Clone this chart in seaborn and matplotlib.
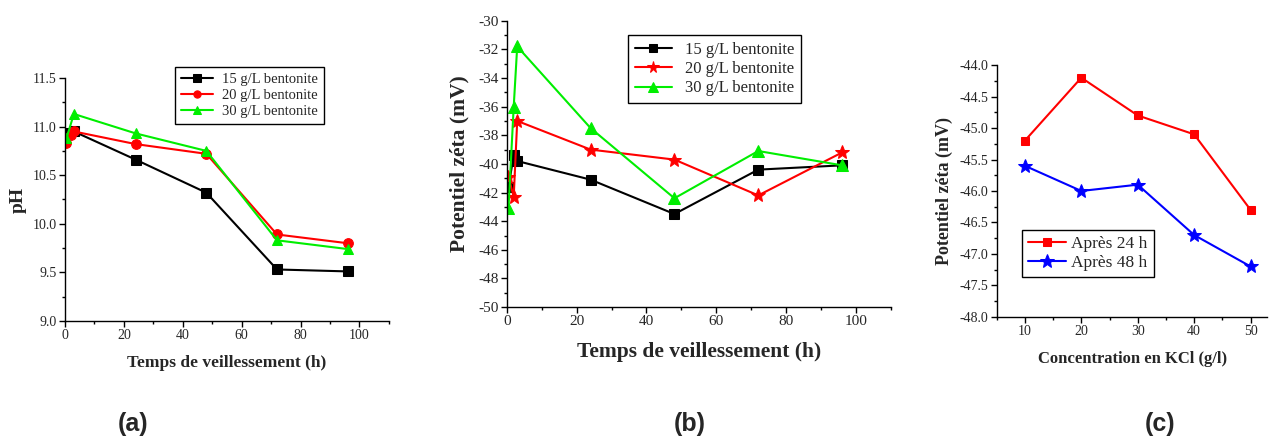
import numpy as np
import pandas as pd
import matplotlib
matplotlib.use("Agg")
import matplotlib.pyplot as plt
from matplotlib.ticker import MultipleLocator, FormatStrFormatter
import seaborn as sns

sns.set_theme(style="white")
plt.rcParams['font.family'] = ['Liberation Serif', 'DejaVu Serif']
plt.rcParams['axes.unicode_minus'] = False

# ---- Panel (a): pH vs ageing time
a_time_15 = [0.5, 3, 24, 48, 72, 96]
a_ph_15 = [10.93, 10.95, 10.66, 10.32, 9.53, 9.51]
a_time_20 = [0.5, 2, 3, 24, 48, 72, 96]
a_ph_20 = [10.83, 10.91, 10.95, 10.82, 10.72, 9.89, 9.80]
a_time_30 = [0.5, 3, 24, 48, 72, 96]
a_ph_30 = [10.88, 11.13, 10.93, 10.75, 9.83, 9.74]

# ---- Panel (b): zeta potential vs ageing time
b_time_15 = [0.5, 2, 3, 24, 48, 72, 96]
b_zeta_15 = [-41.6, -39.4, -39.8, -41.1, -43.5, -40.4, -40.1]
b_time_20 = [0.5, 2, 3, 24, 48, 72, 96]
b_zeta_20 = [-40.9, -42.3, -37.0, -39.0, -39.7, -42.2, -39.2]
b_time_30 = [0.5, 2, 3, 24, 48, 72, 96]
b_zeta_30 = [-43.1, -36.0, -31.8, -37.5, -42.4, -39.1, -40.1]

# ---- Panel (c): zeta potential vs KCl concentration
c_kcl = [10, 20, 30, 40, 50]
c_zeta_24h = [-45.2, -44.2, -44.8, -45.1, -46.3]
c_zeta_48h = [-45.6, -46.0, -45.9, -46.7, -47.2]

series_labels = ["15 g/L bentonite", "20 g/L bentonite", "30 g/L bentonite"]
c_labels = ["Après 24 h", "Après 48 h"]

fig = plt.figure(figsize=(12.7, 4.4), dpi=100)
ax_a = fig.add_axes([0.0512, 0.2705, 0.2550, 0.5522])
ax_b = fig.add_axes([0.3990, 0.3020, 0.3026, 0.6510])
ax_c = fig.add_axes([0.7848, 0.2800, 0.2132, 0.5720])

GREEN = "#00ee00"

def style_axes(ax, tick_fs):
    for s in ["top", "right"]:
        ax.spines[s].set_visible(False)
    for s in ["left", "bottom"]:
        ax.spines[s].set_color("black")
        ax.spines[s].set_linewidth(1.0)
    ax.tick_params(which="both", direction="out", color="black",
                   left=True, bottom=True, labelsize=tick_fs, pad=2)
    ax.tick_params(which="major", length=4, width=1)
    ax.tick_params(which="minor", length=2.5, width=1)
    ax.set_facecolor("white")

def legend(ax, anchor, fs, **kw):
    ax.legend(loc="upper left", bbox_to_anchor=anchor, fontsize=fs,
              frameon=True, fancybox=False, edgecolor="black", framealpha=1,
              borderaxespad=0, **kw).get_frame().set_linewidth(1.0)

# Panel a
for xs, ys, col, mk, lab in [
    (a_time_15, a_ph_15, "black", "s", series_labels[0]),
    (a_time_20, a_ph_20, "red", "o", series_labels[1]),
    (a_time_30, a_ph_30, GREEN, "^", series_labels[2]),
]:
    sns.lineplot(x=xs, y=ys, ax=ax_a, color=col, marker=mk, markersize=7,
                 markeredgecolor=col, linewidth=1.5, estimator=None, sort=False,
                 label=lab)
ax_a.set_xlim(0, 110)
ax_a.set_ylim(9.0, 11.5)
ax_a.xaxis.set_major_locator(MultipleLocator(20))
ax_a.xaxis.set_minor_locator(MultipleLocator(10))
ax_a.yaxis.set_major_locator(MultipleLocator(0.5))
ax_a.yaxis.set_minor_locator(MultipleLocator(0.25))
ax_a.yaxis.set_major_formatter(FormatStrFormatter("%.1f"))
style_axes(ax_a, 10)
ax_a.set_xlabel("Temps de veillessement (h)", fontsize=12.5, fontweight="bold", labelpad=9)
ax_a.set_ylabel("pH", fontsize=14, fontweight="bold", labelpad=4)
legend(ax_a, (0.34, 1.045), 10.5, handlelength=2.2, borderpad=0.4,
       labelspacing=0.2, markerscale=0.75, handletextpad=0.6)

# Panel b
for xs, ys, col, mk, lab, ms in [
    (b_time_15, b_zeta_15, "black", "s", series_labels[0], 7),
    (b_time_20, b_zeta_20, "red", "*", series_labels[1], 10),
    (b_time_30, b_zeta_30, GREEN, "^", series_labels[2], 8),
]:
    sns.lineplot(x=xs, y=ys, ax=ax_b, color=col, marker=mk, markersize=ms,
                 markeredgecolor=col, linewidth=1.5, estimator=None, sort=False,
                 label=lab)
ax_b.set_xlim(0, 110)
ax_b.set_ylim(-50, -30)
ax_b.xaxis.set_major_locator(MultipleLocator(20))
ax_b.xaxis.set_minor_locator(MultipleLocator(10))
ax_b.yaxis.set_major_locator(MultipleLocator(2))
ax_b.yaxis.set_minor_locator(MultipleLocator(1))
style_axes(ax_b, 11)
ax_b.set_xlabel("Temps de veillessement (h)", fontsize=15.5, fontweight="bold", labelpad=10)
ax_b.set_ylabel("Potentiel zéta (mV)", fontsize=15.5, fontweight="bold", labelpad=6)
legend(ax_b, (0.316, 0.95), 12, handlelength=2.2, borderpad=0.4,
       labelspacing=0.2, markerscale=0.85)

# Panel c
for ys, col, mk, lab, ms in [
    (c_zeta_24h, "red", "s", c_labels[0], 6),
    (c_zeta_48h, "blue", "*", c_labels[1], 10),
]:
    sns.lineplot(x=c_kcl, y=ys, ax=ax_c, color=col, marker=mk, markersize=ms,
                 markeredgecolor=col, linewidth=1.5, estimator=None, sort=False,
                 label=lab)
ax_c.set_xlim(5, 53)
ax_c.set_ylim(-48.0, -44.0)
ax_c.xaxis.set_major_locator(MultipleLocator(10))
ax_c.xaxis.set_minor_locator(MultipleLocator(5))
ax_c.yaxis.set_major_locator(MultipleLocator(0.5))
ax_c.yaxis.set_minor_locator(MultipleLocator(0.25))
ax_c.yaxis.set_major_formatter(FormatStrFormatter("%.1f"))
style_axes(ax_c, 10)
ax_c.set_xlabel("Concentration en KCl (g/l)", fontsize=12, fontweight="bold", labelpad=9)
ax_c.set_ylabel("Potentiel zéta (mV)", fontsize=13, fontweight="bold", labelpad=5)
legend(ax_c, (0.092, 0.344), 12.5, handlelength=2.2, borderpad=0.35,
       labelspacing=0.15, handletextpad=0.3)

for x, t in [(133 / 1270, "(a)"), (690 / 1270, "(b)"), (1160 / 1270, "(c)")]:
    fig.text(x, 1 - 424 / 440, t, ha="center", va="center", fontsize=18,
             fontweight="bold", family=["Liberation Sans", "DejaVu Sans"])

fig.savefig("out.png", dpi=100, facecolor="white")
